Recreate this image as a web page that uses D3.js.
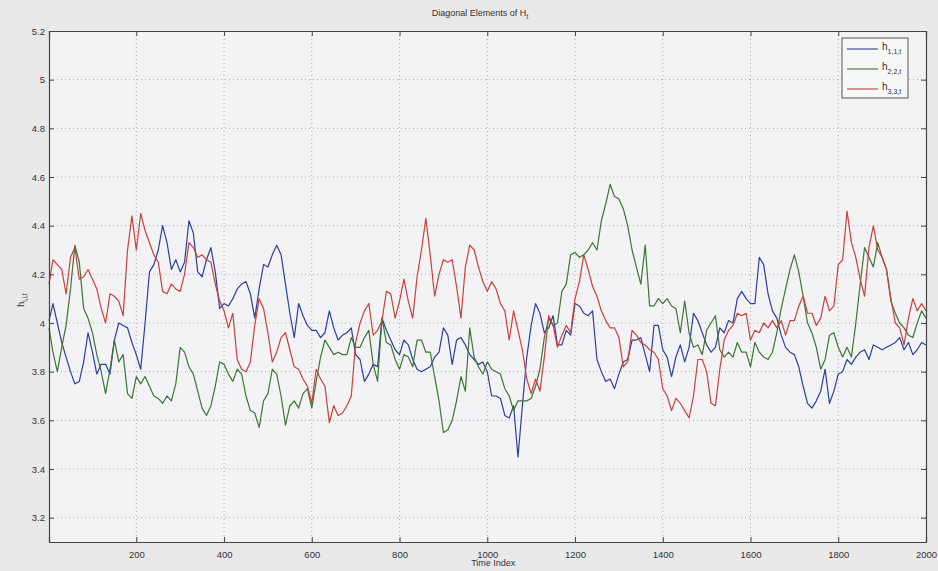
<!DOCTYPE html>
<html>
  <head>
    <meta charset="utf-8">
    <title>Diagonal Elements of H_t</title>
    <script src="https://d3js.org/d3.v7.min.js" charset="utf-8"></script>
    <style>
      body { margin: 0; background: #e9e9ea; }
      text { font-family: "Liberation Sans", Arial, sans-serif; fill: #333; }
    </style>
  </head>
  <body>
    <script>
      // time index of every sample: 10 steps apart, 0..2000
      var step = 10;

      // h_{1,1,t} (blue)
      var h11 = [
        4.01, 4.08, 4.00, 3.92, 3.86, 3.80, 3.75, 3.76, 3.84, 3.96,
        3.88, 3.79, 3.83, 3.83, 3.79, 3.93, 4.00, 3.99, 3.98, 3.92,
        3.87, 3.81, 4.00, 4.21, 4.24, 4.30, 4.40, 4.33, 4.22, 4.26,
        4.21, 4.25, 4.42, 4.37, 4.21, 4.19, 4.26, 4.31, 4.21, 4.06,
        4.08, 4.07, 4.10, 4.14, 4.16, 4.17, 4.12, 4.02, 4.14, 4.24,
        4.23, 4.28, 4.32, 4.28, 4.16, 4.04, 3.94, 4.08, 4.03, 3.99,
        3.97, 3.97, 3.94, 3.96, 4.05, 3.98, 3.93, 3.95, 3.96, 3.98,
        3.87, 3.85, 3.76, 3.79, 3.83, 3.82, 4.02, 3.97, 3.93, 3.89,
        3.87, 3.93, 3.91, 3.85, 3.81, 3.80, 3.81, 3.82, 3.86, 3.88,
        3.98, 3.95, 3.83, 3.93, 3.94, 3.91, 3.87, 3.85, 3.83, 3.84,
        3.80, 3.70, 3.70, 3.69, 3.62, 3.61, 3.66, 3.45, 3.66, 3.86,
        3.99, 4.08, 4.04, 3.96, 3.98, 4.03, 3.91, 3.91, 3.97, 3.95,
        4.08, 4.07, 4.04, 4.03, 4.05, 3.85, 3.80, 3.76, 3.77, 3.73,
        3.79, 3.84, 3.85, 3.93, 3.93, 3.94, 3.87, 3.80, 3.99, 3.99,
        3.89, 3.86, 3.78, 3.86, 3.91, 3.84, 3.90, 4.04, 4.01, 3.96,
        3.91, 3.88, 3.90, 3.98, 3.96, 4.01, 4.00, 4.10, 4.13, 4.10,
        4.08, 4.08, 4.27, 4.24, 4.12, 4.05, 4.02, 3.95, 3.90, 3.88,
        3.87, 3.82, 3.74, 3.67, 3.65, 3.68, 3.72, 3.81, 3.67, 3.72,
        3.79, 3.80, 3.85, 3.83, 3.86, 3.88, 3.89, 3.85, 3.91, 3.90,
        3.89, 3.90, 3.91, 3.92, 3.94, 3.89, 3.92, 3.87, 3.89, 3.92, 3.91
      ];

      // h_{2,2,t} (green)
      var h22 = [
        3.98, 3.88, 3.80, 3.90, 3.99, 4.14, 4.32, 4.25, 4.06, 4.02,
        3.96, 3.87, 3.80, 3.71, 3.81, 3.93, 3.84, 3.87, 3.71, 3.69,
        3.78, 3.75, 3.78, 3.74, 3.70, 3.69, 3.67, 3.70, 3.68, 3.75,
        3.90, 3.88, 3.82, 3.79, 3.72, 3.65, 3.62, 3.66, 3.74, 3.84,
        3.83, 3.79, 3.76, 3.81, 3.79, 3.70, 3.64, 3.63, 3.57, 3.68,
        3.71, 3.81, 3.79, 3.70, 3.58, 3.66, 3.68, 3.65, 3.71, 3.73,
        3.65, 3.76, 3.86, 3.93, 3.90, 3.87, 3.88, 3.87, 3.87, 3.94,
        3.90, 3.90, 3.94, 3.97, 3.83, 3.76, 4.02, 3.92, 3.91, 3.85,
        3.81, 3.87, 3.86, 3.82, 3.93, 3.93, 3.88, 3.88, 3.78, 3.68,
        3.55, 3.56, 3.60, 3.68, 3.78, 3.72, 3.98, 3.86, 3.82, 3.79,
        3.84, 3.81, 3.80, 3.79, 3.73, 3.70, 3.64, 3.68, 3.68, 3.68,
        3.69, 3.74, 3.81, 3.94, 4.02, 3.99, 4.00, 4.13, 4.16, 4.28,
        4.29, 4.27, 4.28, 4.30, 4.33, 4.30, 4.42, 4.49, 4.57, 4.52,
        4.51, 4.47, 4.40, 4.30, 4.23, 4.16, 4.32, 4.07, 4.07, 4.10,
        4.08, 4.10, 4.07, 4.06, 3.96, 4.09, 3.96, 3.90, 3.91, 3.87,
        3.97, 4.00, 4.03, 3.89, 3.86, 3.88, 3.86, 3.92, 3.88, 3.88,
        3.82, 3.92, 3.88, 3.86, 3.85, 3.88, 3.96, 4.06, 4.14, 4.22,
        4.28, 4.21, 4.11, 4.00, 3.96, 3.90, 3.81, 3.85, 3.95, 3.96,
        3.90, 3.86, 3.90, 3.86, 4.00, 4.16, 4.31, 4.27, 4.23, 4.33,
        4.27, 4.22, 4.09, 4.04, 4.00, 3.98, 3.95, 3.94, 4.00, 4.05, 4.02
      ];

      // h_{3,3,t} (red)
      var h33 = [
        4.16, 4.26, 4.24, 4.22, 4.12, 4.27, 4.31, 4.18, 4.19, 4.22,
        4.18, 4.14, 4.06, 4.00, 4.12, 4.11, 4.09, 4.03, 4.30, 4.44,
        4.30, 4.45, 4.38, 4.33, 4.28, 4.25, 4.13, 4.12, 4.16, 4.14,
        4.13, 4.20, 4.33, 4.31, 4.27, 4.28, 4.26, 4.25, 4.16, 4.09,
        4.05, 3.98, 4.04, 3.85, 3.81, 3.80, 3.84, 3.99, 4.10, 4.06,
        3.96, 3.84, 3.88, 3.94, 3.96, 3.89, 3.82, 3.81, 3.77, 3.74,
        3.67, 3.81, 3.77, 3.74, 3.59, 3.66, 3.62, 3.63, 3.66, 3.70,
        3.92, 4.00, 4.05, 4.08, 3.95, 3.97, 4.01, 4.13, 4.12, 4.02,
        4.09, 4.18, 4.09, 4.02, 4.19, 4.30, 4.43, 4.28, 4.11, 4.20,
        4.26, 4.25, 4.26, 4.15, 4.02, 4.23, 4.32, 4.30, 4.23, 4.17,
        4.13, 4.17, 4.14, 4.08, 4.05, 3.93, 4.05, 3.97, 3.89, 3.77,
        3.71, 3.77, 3.72, 3.86, 4.03, 3.99, 3.90, 3.95, 3.99, 3.96,
        4.10, 4.17, 4.28, 4.22, 4.15, 4.11, 4.05, 4.01, 3.98, 3.98,
        3.94, 3.82, 3.84, 3.97, 3.95, 3.92, 3.91, 3.89, 3.88, 3.85,
        3.73, 3.70, 3.64, 3.69, 3.67, 3.64, 3.61, 3.70, 3.85, 3.85,
        3.80, 3.67, 3.66, 3.81, 3.93, 3.97, 3.99, 4.04, 4.03, 4.04,
        3.93, 3.97, 3.96, 4.00, 3.98, 4.01, 3.98, 4.01, 3.95, 4.01,
        4.01, 4.07, 4.11, 4.04, 4.04, 3.99, 4.02, 4.11, 4.05, 4.07,
        4.24, 4.26, 4.46, 4.33, 4.27, 4.18, 4.11, 4.31, 4.40, 4.30,
        4.27, 4.22, 4.10, 4.00, 3.98, 3.91, 4.02, 4.10, 4.05, 4.08, 4.05
      ];

      var xTicks = [200, 400, 600, 800, 1000, 1200, 1400, 1600, 1800, 2000];
      var yTicks = [3.2, 3.4, 3.6, 3.8, 4, 4.2, 4.4, 4.6, 4.8, 5, 5.2];
      var seriesNames = ["1,1,t", "2,2,t", "3,3,t"];
      var seriesColors = ["#2c3f9c", "#3c7534", "#c8413b"];

      var width = 938;
      var height = 571;
      var margin = {top: 31, right: 12, bottom: 29, left: 49};
      var w = width - margin.left - margin.right;
      var h = height - margin.top - margin.bottom;

      var svg = d3.select("body")
        .append("svg")
        .attr("width", width)
        .attr("height", height);

      var x = d3.scaleLinear().domain([1, 2000]).range([0, w]);
      var y = d3.scaleLinear().domain([3.1, 5.2]).range([h, 0]);

      var g = svg.append("g")
        .attr("transform", "translate(" + margin.left + "," + margin.top + ")");

      g.append("rect")
        .attr("width", w)
        .attr("height", h)
        .attr("fill", "#f3f3f5");

      // dotted grid
      g.append("g").selectAll("line")
        .data(xTicks.slice(0, -1))
        .enter().append("line")
        .attr("x1", function(d) { return x(d); })
        .attr("x2", function(d) { return x(d); })
        .attr("y1", 0).attr("y2", h)
        .attr("stroke", "#9a9a9a")
        .attr("stroke-width", 0.8)
        .attr("stroke-dasharray", "1,3");

      g.append("g").selectAll("line")
        .data(yTicks.slice(0, -1))
        .enter().append("line")
        .attr("x1", 0).attr("x2", w)
        .attr("y1", function(d) { return y(d); })
        .attr("y2", function(d) { return y(d); })
        .attr("stroke", "#9a9a9a")
        .attr("stroke-width", 0.8)
        .attr("stroke-dasharray", "1,3");

      // lines
      var line = d3.line()
        .x(function(d, i) { return x(Math.max(1, i * step)); })
        .y(function(d) { return y(d); });

      [h11, h22, h33].forEach(function(s, k) {
        g.append("path")
          .datum(s)
          .attr("fill", "none")
          .attr("stroke", seriesColors[k])
          .attr("stroke-width", 1.2)
          .attr("stroke-linejoin", "round")
          .attr("d", line);
      });

      // axes (ticks inside, like matlab)
      var xAxis = g.append("g")
        .attr("transform", "translate(0," + h + ")")
        .call(d3.axisBottom(x).tickValues(xTicks).tickSize(-5).tickPadding(9).tickFormat(d3.format("d")));
      var yAxis = g.append("g")
        .call(d3.axisLeft(y).tickValues(yTicks).tickSize(-5).tickPadding(4).tickFormat(function(d) { return String(d); }));
      g.append("g")
        .attr("transform", "translate(" + w + ",0)")
        .call(d3.axisRight(y).tickValues(yTicks).tickSize(-5).tickFormat(""));
      g.append("g")
        .call(d3.axisTop(x).tickValues(xTicks).tickSize(-5).tickFormat(""));

      g.selectAll(".domain").attr("stroke", "#444").attr("stroke-width", 1.2);
      g.selectAll(".tick line").attr("stroke", "#444");
      g.selectAll(".tick text").attr("font-size", 9.5).attr("fill", "#333")
        .attr("font-family", "Liberation Sans, Arial, sans-serif");

      // title
      var title = svg.append("text")
        .attr("x", 480)
        .attr("y", 16)
        .attr("text-anchor", "middle")
        .attr("font-size", 9);
      title.append("tspan").text("Diagonal Elements of H");
      title.append("tspan").attr("dy", 3).attr("font-size", 6.5).text("t");

      // x label
      svg.append("text")
        .attr("x", margin.left + x(1000) + 6)
        .attr("y", 566)
        .attr("text-anchor", "middle")
        .attr("font-size", 9)
        .text("Time Index");

      // y label
      var yl = svg.append("text")
        .attr("transform", "translate(24,300) rotate(-90)")
        .attr("text-anchor", "middle")
        .attr("font-size", 9);
      yl.append("tspan").text("h");
      yl.append("tspan").attr("dy", 3).attr("font-size", 6.5).text("i,i,t");

      // legend
      var legend = svg.append("g").attr("transform", "translate(842,38)");
      legend.append("rect")
        .attr("width", 66)
        .attr("height", 60)
        .attr("fill", "#f7f7f8")
        .attr("stroke", "#555")
        .attr("stroke-width", 1);

      seriesNames.forEach(function(name, k) {
        var ly = 11 + k * 20;
        legend.append("line")
          .attr("x1", 5).attr("x2", 36)
          .attr("y1", ly).attr("y2", ly)
          .attr("stroke", seriesColors[k])
          .attr("stroke-width", 1.1);
        var t = legend.append("text")
          .attr("x", 40)
          .attr("y", ly + 1)
          .attr("font-size", 10);
        t.append("tspan").text("h");
        t.append("tspan").attr("dy", 4).attr("font-size", 7).text(name);
      });
    </script>
  </body>
</html>
